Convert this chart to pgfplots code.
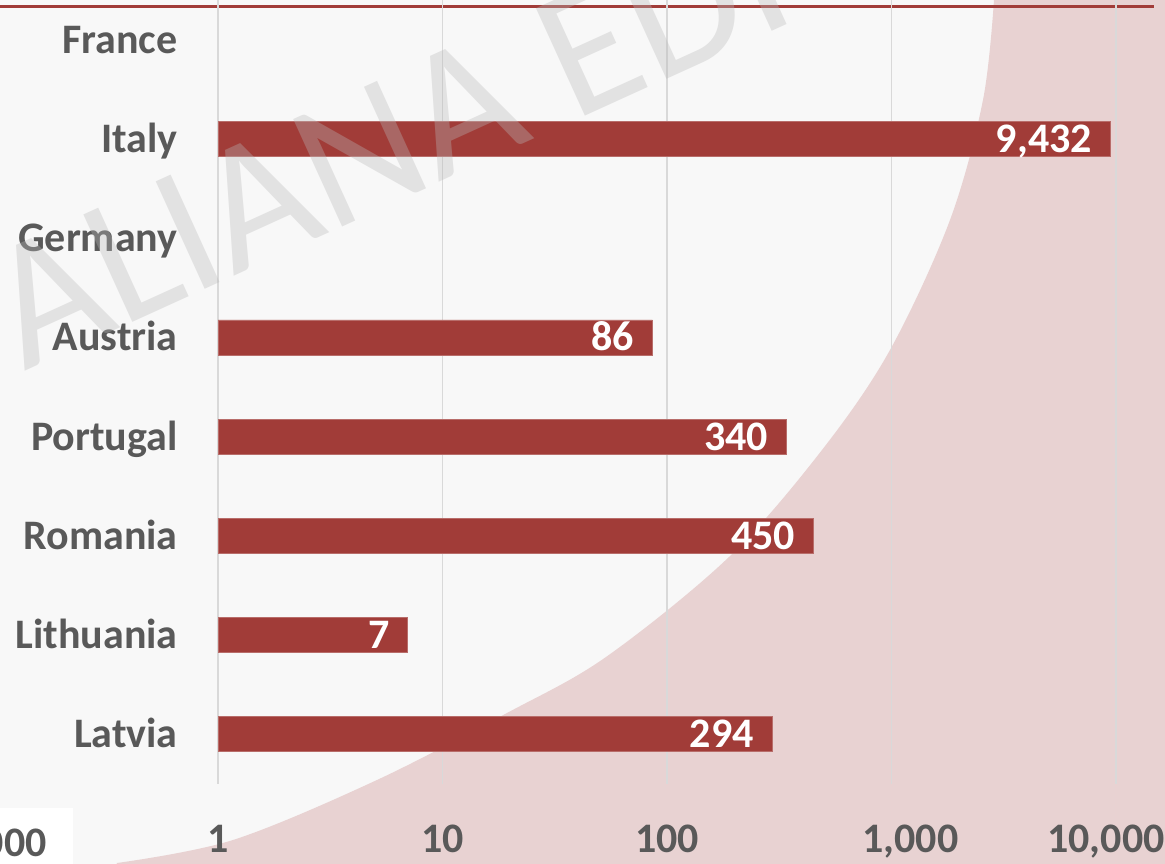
\documentclass[border=0pt]{standalone}
\usepackage{fontspec}
\setmainfont{Carlito}
\usepackage{pgfplots}
\usepackage{pgfplotstable}
\pgfplotsset{compat=1.18}
\definecolor{bgc}{RGB}{248,248,248}
\definecolor{pinkc}{RGB}{232,210,210}
\definecolor{barc}{RGB}{161,60,56}
\definecolor{txt}{RGB}{89,89,89}
\definecolor{gridc}{RGB}{217,217,217}
\definecolor{wm}{RGB}{185,185,185}
\newcommand{\lab}{\fontsize{21bp}{24bp}\selectfont\bfseries}

\pgfplotstableread{
k v lab
0 294 294
1 7 7
2 450 450
3 340 340
4 86 86
6 9432 9,432
}\datatab

\begin{document}
\begin{tikzpicture}[x=1bp,y=1bp]
\useasboundingbox (0,0) rectangle (582.5,431.5);
\clip (0,0) rectangle (582.5,431.5);
\begin{scope}[x=0.5bp,y=-0.5bp,yshift=431.5bp]
\fill[bgc] (-10,-10) rectangle (1175,873);
\fill[pinkc] plot[smooth,tension=0.55] coordinates {(117,863) (233,840) (377,780) (507,713) (606,657) (729,557) (822,450) (890,350) (950,220) (983,100) (994,0)} -- (996,-20) -- (1200,-20) -- (1200,900) -- (100,900) -- cycle;
\fill[white] (-10,808) rectangle (73,873);
\node[anchor=base east, inner sep=0pt, text=txt, font=\lab] at (47,857) {10,000};
\draw[barc, line width=1.5bp] (-5,6.5) -- (1154,6.5);
\end{scope}

\begin{axis}[
  at={(109bp,39.75bp)}, anchor=south west,
  scale only axis, width=468bp, height=396.5bp,
  xmode=log, xmin=1, xmax=14770, ymin=-0.5, ymax=7.5,
  xbar, bar width=17.5bp,
  axis line style={draw=none},
  major tick length=0pt, minor tick length=0pt,
  tick style={draw=none},
  xtick={1,10,100,1000,10000},
  xticklabels={1,10,100,{\hspace*{19bp}1,000},{10,000\hspace*{10bp}}},
  xticklabel style={anchor=base, inner sep=0pt, yshift=-34.25bp, font=\lab, text=txt},
  ytick={0,...,7},
  yticklabels={Latvia,Lithuania,Romania,Portugal,Austria,Germany,Italy,France},
  yticklabel style={anchor=base east, inner sep=0pt, xshift=-20bp, yshift=-6.75bp, font=\lab, text=txt},
  xmajorgrids, major grid style={gridc, line width=0.75bp},
  point meta=explicit symbolic,
  nodes near coords,
  every node near coord/.append style={anchor=base east, inner sep=0pt, xshift=-9bp, yshift=-6.75bp, font=\lab, text=white},
]
\addplot[fill=barc, draw=barc!75!white, line width=0.4bp] table[x=v, y=k, meta=lab] {\datatab};
\end{axis}

\begin{scope}[x=0.5bp,y=-0.5bp,yshift=431.5bp]
\node[rotate=24.5, anchor=base west, inner sep=0pt, text=wm, text opacity=0.35, font=\fontsize{92bp}{96bp}\selectfont] at (24,372) {ALIANA EDI};
\end{scope}
\end{tikzpicture}
\end{document}
